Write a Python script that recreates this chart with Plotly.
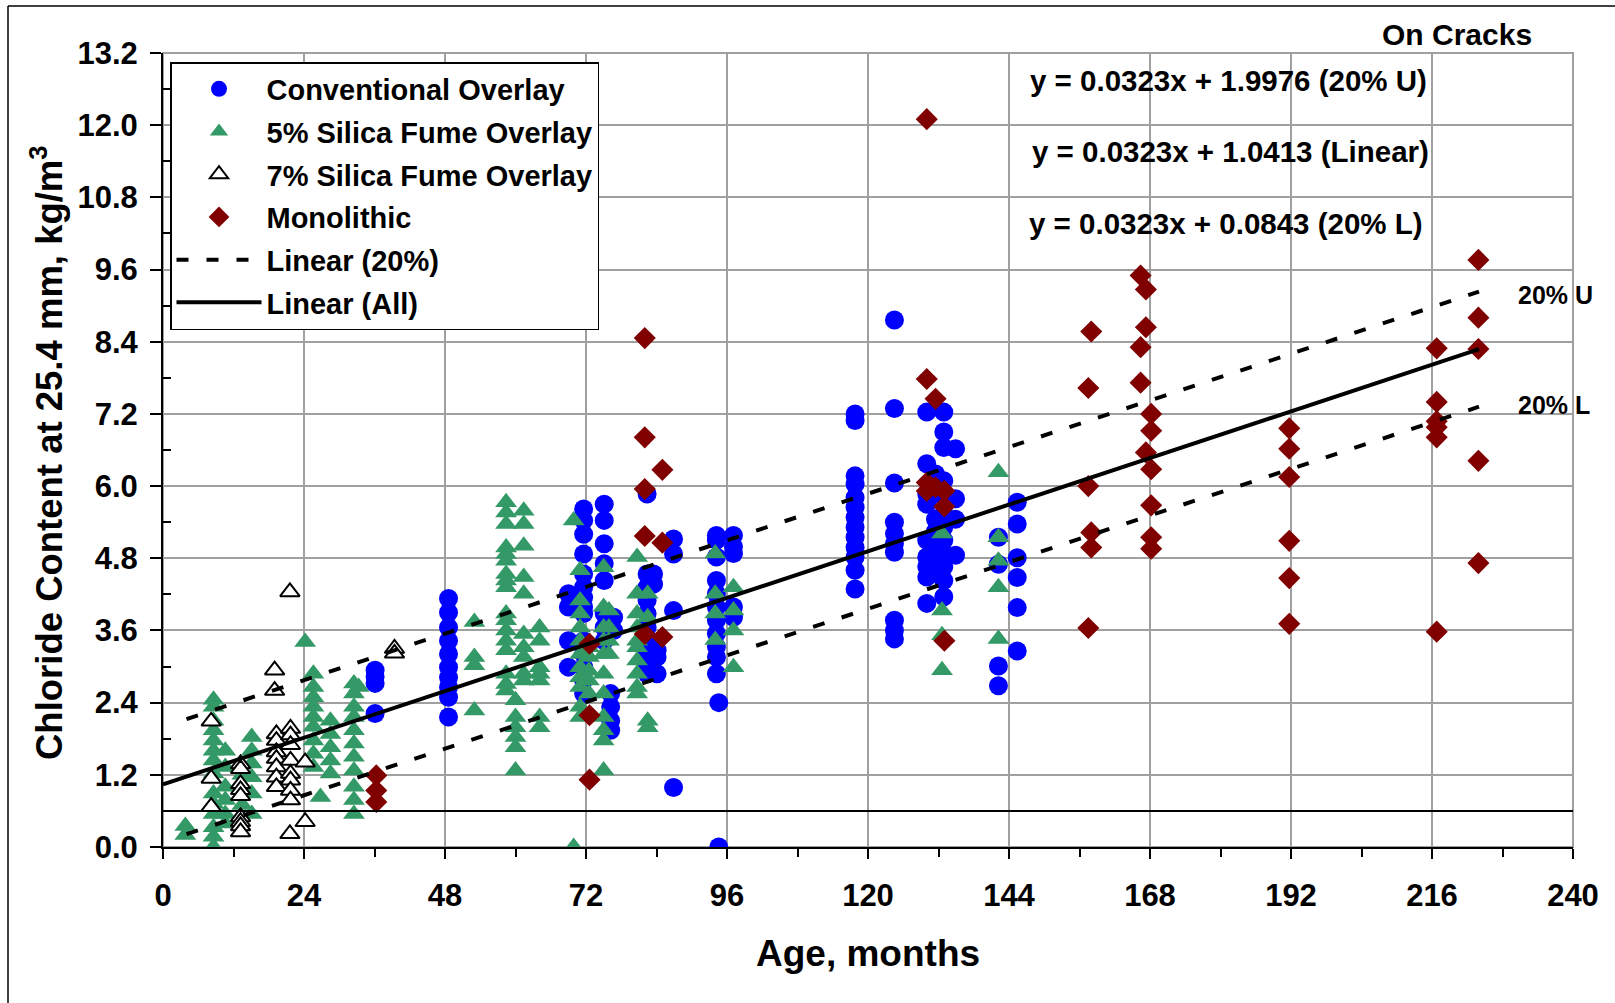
import plotly.graph_objects as go

# ---------------- data ----------------
conv_ages = [36.1, 48.6, 69.0, 71.6, 75.1, 76.2, 76.7, 82.4, 83.5, 84.1, 86.9, 94.6, 94.2,
             97.1, 117.8, 124.5, 130.0, 131.5, 132.9, 134.9, 142.2, 145.4]
conv_values = [
    [2.94, 2.83, 2.72, 2.22],
    [4.13, 3.9, 3.65, 3.43, 3.21, 2.99, 2.82, 2.66, 2.49, 2.16],
    [4.21, 3.99, 3.43, 2.99],
    [5.62, 5.43, 5.2, 4.87, 4.54, 4.32, 4.15, 3.99, 3.88, 3.43, 3.21, 2.99, 2.77, 2.55],
    [5.7, 5.43, 5.04, 4.71, 4.43, 3.88, 3.65, 3.43],
    [2.55, 2.33, 2.1, 1.94],
    [3.82, 3.6],
    [5.87, 4.54, 4.32, 4.1, 3.88, 3.65, 3.43, 3.21, 2.99, 2.88],
    [4.54, 4.37],
    [3.27, 3.16, 2.88],
    [5.12, 4.87, 3.93, 0.99],
    [0.0, 2.4],
    [5.18, 5.1, 4.82, 4.43, 4.21, 3.99, 3.77, 3.55, 3.33, 3.16, 2.88],
    [5.18, 4.99, 4.88, 3.99, 3.82],
    [7.2, 7.09, 6.17, 6.03, 5.81, 5.65, 5.48, 5.32, 5.15, 4.98, 4.82, 4.6, 4.29],
    [8.76, 7.29, 6.05, 5.4, 5.21, 5.04, 4.9, 3.77, 3.6, 3.46],
    [7.23, 6.37, 5.87, 5.7, 5.1, 4.82, 4.66, 4.49, 4.05],
    [6.2, 5.95, 5.45, 5.25, 4.95, 4.75, 4.55],
    [7.23, 6.9, 6.64, 6.09, 5.81, 5.54, 5.32, 5.1, 4.87, 4.66, 4.43, 4.16],
    [6.62, 5.79, 5.45, 4.85],
    [5.15, 4.7, 3.01, 2.68],
    [5.73, 5.37, 4.81, 4.48, 3.98, 3.26],
]

sf5_ages = [3.8, 8.6, 10.6, 13.5, 15.1, 24.2, 25.6, 26.8, 28.5, 32.5, 33.3, 53.0, 58.4, 60.0,
            61.4, 64.1, 69.9, 71.0, 72.5, 75.0, 75.9, 80.7, 82.5, 94.0, 97.1, 132.6, 142.2]
sf5_values = [
    [0.35, 0.2],
    [2.45, 2.33, 2.1, 1.94, 1.77, 1.6, 1.44, 1.22, 0.89, 0.72, 0.55, 0.33, 0.17, 0.0],
    [1.6, 1.33, 1.0, 0.78, 0.55, 0.39],
    [1.2, 0.95, 0.7],
    [1.83, 1.6, 1.39, 1.16, 0.89, 0.55],
    [3.41],
    [2.88, 2.66, 2.49, 2.33, 2.16, 2.0, 1.77, 1.55, 1.33],
    [0.83],
    [2.1, 1.88, 1.66, 1.44, 1.22],
    [2.72, 2.55, 2.33, 2.16, 1.94, 1.72, 1.5, 1.27, 1.0, 0.78, 0.55],
    [2.66],
    [3.74, 3.16, 3.02, 2.27],
    [5.73, 5.56, 5.37, 4.98, 4.87, 4.76, 4.54, 4.43, 4.32, 3.88, 3.77, 3.6, 3.43, 3.27, 2.88, 2.71, 2.6],
    [2.44, 2.16, 1.99, 1.83, 1.66, 1.27],
    [5.59, 5.37, 5.01, 4.49, 4.21, 3.54, 3.32, 3.16, 2.88, 2.77],
    [3.65, 3.43, 2.99, 2.88, 2.77, 2.16, 1.99],
    [5.43, 0.0],
    [4.6, 4.1, 3.88, 3.65, 3.43, 3.21, 2.99, 2.82, 2.66, 2.33, 2.16],
    [3.32, 3.16, 2.93, 2.77, 2.55],
    [4.65, 3.99, 3.65, 3.43, 3.21, 2.88, 2.55, 2.16, 1.94, 1.77, 1.27],
    [3.93, 3.65, 3.43, 3.21],
    [4.82, 4.21, 3.88, 3.65, 3.43, 3.32, 3.1, 2.88, 2.66, 2.55],
    [4.21, 3.82, 2.1, 1.99],
    [4.88, 4.21, 3.88, 3.44],
    [4.32, 3.93, 3.6, 2.99],
    [5.21, 3.93, 3.52, 2.94],
    [6.23, 5.15, 4.76, 4.32, 3.46],
]

sf7_ages = [8.2, 13.2, 19.0, 19.3, 21.6, 21.7, 24.2, 39.4]
sf7_values = [
    [2.09, 1.14, 0.67],
    [1.38, 1.3, 1.05, 0.95, 0.85, 0.5, 0.42, 0.35, 0.25],
    [2.94, 2.6],
    [1.88, 1.77, 1.58, 1.47, 1.33, 1.16, 1.0],
    [4.24, 0.22],
    [1.97, 1.86, 1.7, 1.44, 1.22, 1.11, 0.94, 0.78],
    [1.41, 0.42],
    [3.3, 3.22],
]

mono_ages = [36.3, 72.6, 82.0, 85.0, 130.0, 131.5, 133.0, 157.5, 158.0, 166.4, 167.3, 168.2,
             191.7, 216.8, 223.9]
mono_values = [
    [1.19, 0.94, 0.75],
    [3.38, 2.19, 1.12],
    [8.46, 6.81, 5.95, 5.17, 3.54],
    [6.27, 5.06, 3.49],
    [12.1, 7.78, 6.06, 5.92],
    [7.45, 5.98],
    [5.92, 5.66, 3.43],
    [7.63, 6.0, 3.64],
    [8.57, 5.23, 4.98],
    [9.5, 8.31, 7.72],
    [9.27, 8.64, 6.56],
    [7.2, 6.92, 6.28, 5.68, 5.15, 4.96],
    [6.96, 6.62, 6.15, 5.09, 4.47, 3.71],
    [8.29, 7.4, 7.08, 6.98, 6.81, 3.58],
    [9.76, 8.80, 8.28, 6.42, 4.72],
]

# fitted lines as printed on the chart
fit_slope = 0.0323
fit_intercept_all = 1.0413
fit_intercept_upper = 1.9976
fit_intercept_lower = 0.0843
fit_all_x = [0, 224]
fit_band_x = [4, 224]
threshold_x = [0, 240]
threshold_y = [0.6, 0.6]

x_ticks = [0, 24, 48, 72, 96, 120, 144, 168, 192, 216, 240]
x_minor = [12, 36, 60, 84, 108, 132, 156, 180, 204, 228]
y_ticks = [0.0, 1.2, 2.4, 3.6, 4.8, 6.0, 7.2, 8.4, 9.6, 10.8, 12.0, 13.2]
y_tick_text = ["0.0", "1.2", "2.4", "3.6", "4.8", "6.0", "7.2", "8.4", "9.6", "10.8", "12.0", "13.2"]
y_minor = [0.6, 1.8, 3.0, 4.2, 5.4, 6.6, 7.8, 9.0, 10.2, 11.4, 12.6]


def expand(ages, values):
    xs, ys = [], []
    for a, vals in zip(ages, values):
        for v in vals:
            xs.append(a)
            ys.append(v)
    return xs, ys


FONT = "Liberation Sans, Arial, sans-serif"
fig = go.Figure()

cx, cy = expand(conv_ages, conv_values)
fig.add_trace(go.Scatter(x=cx, y=cy, mode="markers", name="Conventional Overlay", legendgroup="a",
                         marker=dict(symbol="circle", size=19, color="#0000FF", line=dict(width=0))))
gx, gy = expand(sf5_ages, sf5_values)
fig.add_trace(go.Scatter(x=gx, y=gy, mode="markers", name="5% Silica Fume Overlay", legendgroup="b",
                         marker=dict(symbol="triangle-up", size=19, color="#339966", line=dict(width=0))))
ox, oy = expand(sf7_ages, sf7_values)
fig.add_trace(go.Scatter(x=ox, y=oy, mode="markers", name="7% Silica Fume Overlay", legendgroup="c",
                         marker=dict(symbol="triangle-up", size=17, color="white",
                                     line=dict(width=2, color="black"))))
mx, my = expand(mono_ages, mono_values)
fig.add_trace(go.Scatter(x=mx, y=my, mode="markers", name="Monolithic", legendgroup="d",
                         marker=dict(symbol="diamond", size=17, color="#800000", line=dict(width=0))))

fig.add_trace(go.Scatter(x=threshold_x, y=threshold_y, mode="lines", showlegend=False,
                         line=dict(color="black", width=2), hoverinfo="skip"))

dash = "12px,18px"
fig.add_trace(go.Scatter(x=fit_band_x, y=[fit_slope * v + fit_intercept_upper for v in fit_band_x],
                         mode="lines", name="Linear (20%)", legendgroup="e",
                         line=dict(color="black", width=4, dash=dash)))
fig.add_trace(go.Scatter(x=fit_band_x, y=[fit_slope * v + fit_intercept_lower for v in fit_band_x],
                         mode="lines", showlegend=False, legendgroup="e",
                         line=dict(color="black", width=4, dash=dash)))
fig.add_trace(go.Scatter(x=fit_all_x, y=[fit_slope * v + fit_intercept_all for v in fit_all_x],
                         mode="lines", name="Linear (All)", legendgroup="f",
                         line=dict(color="black", width=4)))

tickfont = dict(family=FONT, size=31, color="black", weight="bold")

fig.update_xaxes(range=[0, 240], tickmode="array", tickvals=x_ticks,
                 ticktext=[str(v) for v in x_ticks], tickfont=tickfont,
                 showgrid=True, gridcolor="#A0A0A0", gridwidth=2,
                 showline=True, linecolor="black", linewidth=2, zeroline=False,
                 ticks="outside", ticklen=10, tickwidth=2, tickcolor="black",
                 ticklabelstandoff=10,
                 minor=dict(tickmode="array", tickvals=x_minor, ticks="outside", ticklen=8,
                            tickwidth=2, tickcolor="black", showgrid=False))
fig.update_yaxes(range=[0, 13.2], tickmode="array", tickvals=y_ticks, ticktext=y_tick_text,
                 tickfont=tickfont,
                 showgrid=True, gridcolor="#A0A0A0", gridwidth=2,
                 showline=True, linecolor="black", linewidth=2, zeroline=False,
                 ticks="outside", ticklen=11, tickwidth=2, tickcolor="black",
                 ticklabelstandoff=6,
                 minor=dict(tickmode="array", tickvals=y_minor, ticks="inside", ticklen=8,
                            tickwidth=2, tickcolor="black", showgrid=False))

L, R, T, B = 163, 42, 53, 156
W, H = 1615, 1003
pw, ph = W - L - R, H - T - B


def px_x(p):
    return (p - L) / pw


def px_y(p):
    return (H - B - p) / ph


ann_font = dict(family=FONT, size=29.5, color="black", weight="bold")
small_font = dict(family=FONT, size=25, color="black", weight="bold")
annotations = [
    dict(text="y = 0.0323x + 1.9976 (20% U)", x=181.3, y=12.74, xref="x", yref="y",
         xanchor="center", yanchor="middle", showarrow=False, font=ann_font),
    dict(text="y = 0.0323x + 1.0413 (Linear)", x=181.7, y=11.56, xref="x", yref="y",
         xanchor="center", yanchor="middle", showarrow=False, font=ann_font),
    dict(text="y = 0.0323x + 0.0843 (20% L)", x=181.0, y=10.36, xref="x", yref="y",
         xanchor="center", yanchor="middle", showarrow=False, font=ann_font),
    dict(text="20% U", x=230.3, y=9.17, xref="x", yref="y", xanchor="left", yanchor="middle",
         showarrow=False, font=small_font),
    dict(text="20% L", x=230.3, y=7.35, xref="x", yref="y", xanchor="left", yanchor="middle",
         showarrow=False, font=small_font),
    dict(text="On Cracks", x=px_x(1457), y=px_y(35), xref="paper", yref="paper",
         xanchor="center", yanchor="middle", showarrow=False,
         font=dict(family=FONT, size=30, color="black", weight="bold")),
    dict(text="Age, months", x=0.5, y=px_y(954), xref="paper", yref="paper",
         xanchor="center", yanchor="middle", showarrow=False,
         font=dict(family=FONT, size=37, color="black", weight="bold")),
    dict(text="Chloride Content at 25.4 mm, kg/m<sup>3</sup>", x=px_x(47), y=px_y(453),
         xref="paper", yref="paper", textangle=-90, xanchor="center", yanchor="middle",
         showarrow=False, font=dict(family=FONT, size=36.5, color="black", weight="bold")),
]

shapes = [
    dict(type="rect", xref="paper", yref="paper", x0=0, y0=0, x1=1, y1=1,
         line=dict(color="#A0A0A0", width=2), layer="below"),
    dict(type="line", xref="paper", yref="paper", x0=px_x(8), x1=px_x(8),
         y0=px_y(6), y1=px_y(H + 5), line=dict(color="black", width=1.5)),
    dict(type="line", xref="paper", yref="paper", x0=px_x(8), x1=px_x(W + 5),
         y0=px_y(6), y1=px_y(6), line=dict(color="black", width=1.5)),
]

fig.update_layout(
    width=W, height=H,
    margin=dict(l=L, r=R, t=T, b=B),
    paper_bgcolor="white", plot_bgcolor="white",
    font=dict(family=FONT, color="black"),
    showlegend=True,
    legend=dict(x=px_x(170), y=px_y(62), xanchor="left", yanchor="top",
                bgcolor="white", bordercolor="black", borderwidth=1.5,
                font=dict(family=FONT, size=29, color="black", weight="bold"),
                itemwidth=85, tracegroupgap=2, traceorder="grouped"),
    annotations=annotations,
    shapes=shapes,
)

fig.write_html("out.html", config={"displayModeBar": False},
               post_script="document.body.style.margin='0';")
